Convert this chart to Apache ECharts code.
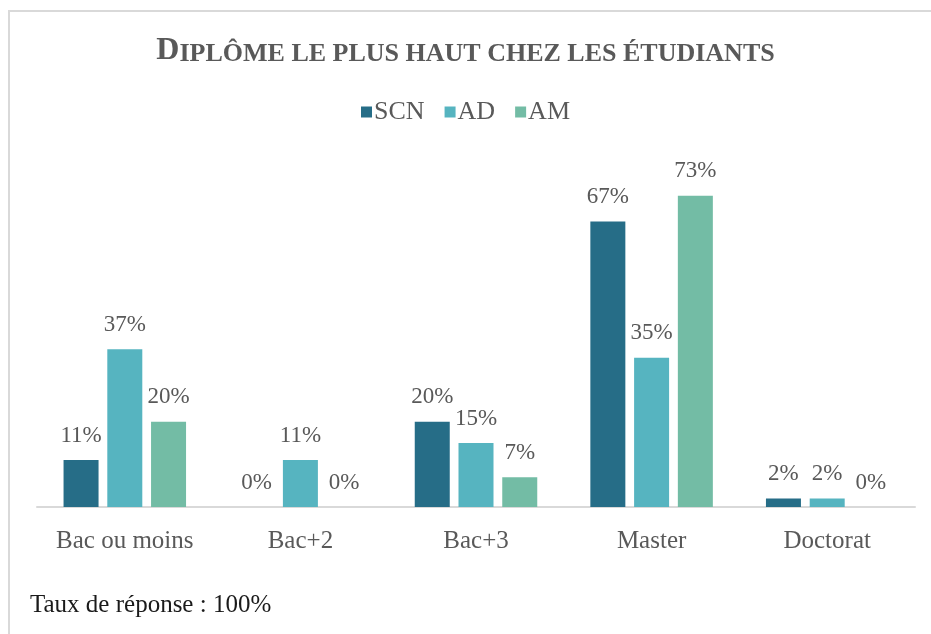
<!DOCTYPE html>
<html>
<head>
<meta charset="utf-8">
<script src="https://cdn.jsdelivr.net/npm/echarts@6/dist/echarts.min.js"></script>
<style>
  html, body { margin: 0; padding: 0; background: #fff; }
  #chart { width: 931px; height: 634px; }
</style>
</head>
<body>
<div id="chart"></div>
<script>
const categories = ['Bac ou moins', 'Bac+2', 'Bac+3', 'Master', 'Doctorat']
const seriesNames = ['SCN', 'AD', 'AM']
const scnValues = [11, 0, 20, 67, 2]
const adValues = [37, 11, 15, 35, 2]
const amValues = [20, 0, 7, 73, 0]
const colors = ['#266d87', '#56b4c0', '#73bca5']

const serif = '"Liberation Serif", "DejaVu Serif", serif'

const makeSeries = (name, data, color) => ({
  name,
  type: 'bar',
  data,
  barWidth: 35,
  barGap: '25%',
  itemStyle: { color },
  label: {
    show: true,
    position: 'top',
    distance: 13,
    formatter: '{c}%',
    color: '#595959',
    fontFamily: serif,
    fontSize: 23
  }
})

const option = {
  animation: false,
  textStyle: { fontFamily: serif },
  graphic: [{
    // chart frame: only top and left edges are visible
    type: 'polyline',
    shape: { points: [[9, 634], [9, 11], [931, 11]] },
    style: { fill: 'none', stroke: '#d9d9d9', lineWidth: 2 }
  }, {
    type: 'text',
    left: 30,
    top: 593,
    style: {
      text: 'Taux de réponse : 100%',
      fontFamily: serif,
      fontSize: 25,
      fill: '#1a1a1a'
    }
  }],
  title: {
    text: '{a|D}{b|IPLÔME LE PLUS HAUT CHEZ LES ÉTUDIANTS}',
    left: 'center',
    top: 30,
    textStyle: {
      rich: {
        a: { fontFamily: serif, fontSize: 32, fontWeight: 'bold', color: '#595959' },
        b: { fontFamily: serif, fontSize: 26, fontWeight: 'bold', color: '#595959', verticalAlign: 'bottom' }
      }
    }
  },
  legend: {
    data: seriesNames,
    top: 94,
    left: 'center',
    itemWidth: 11,
    itemHeight: 11,
    itemGap: 20,
    icon: 'rect',
    textStyle: { fontFamily: serif, fontSize: 26, color: '#595959', padding: [0, 0, 0, -3] }
  },
  grid: { left: 37, right: 16, top: 166, bottom: 127 },
  xAxis: {
    type: 'category',
    data: categories,
    axisLine: { lineStyle: { color: '#d9d9d9', width: 2 } },
    axisTick: { show: false },
    axisLabel: {
      interval: 0,
      hideOverlap: false,
      color: '#595959',
      fontFamily: serif,
      fontSize: 25,
      margin: 22
    }
  },
  yAxis: {
    type: 'value',
    min: 0,
    max: 80,
    show: false,
    splitLine: { show: false }
  },
  series: [
    makeSeries(seriesNames[0], scnValues, colors[0]),
    makeSeries(seriesNames[1], adValues, colors[1]),
    makeSeries(seriesNames[2], amValues, colors[2])
  ]
}

const chart = echarts.init(document.getElementById('chart'))
chart.setOption(option)
</script>
</body>
</html>
